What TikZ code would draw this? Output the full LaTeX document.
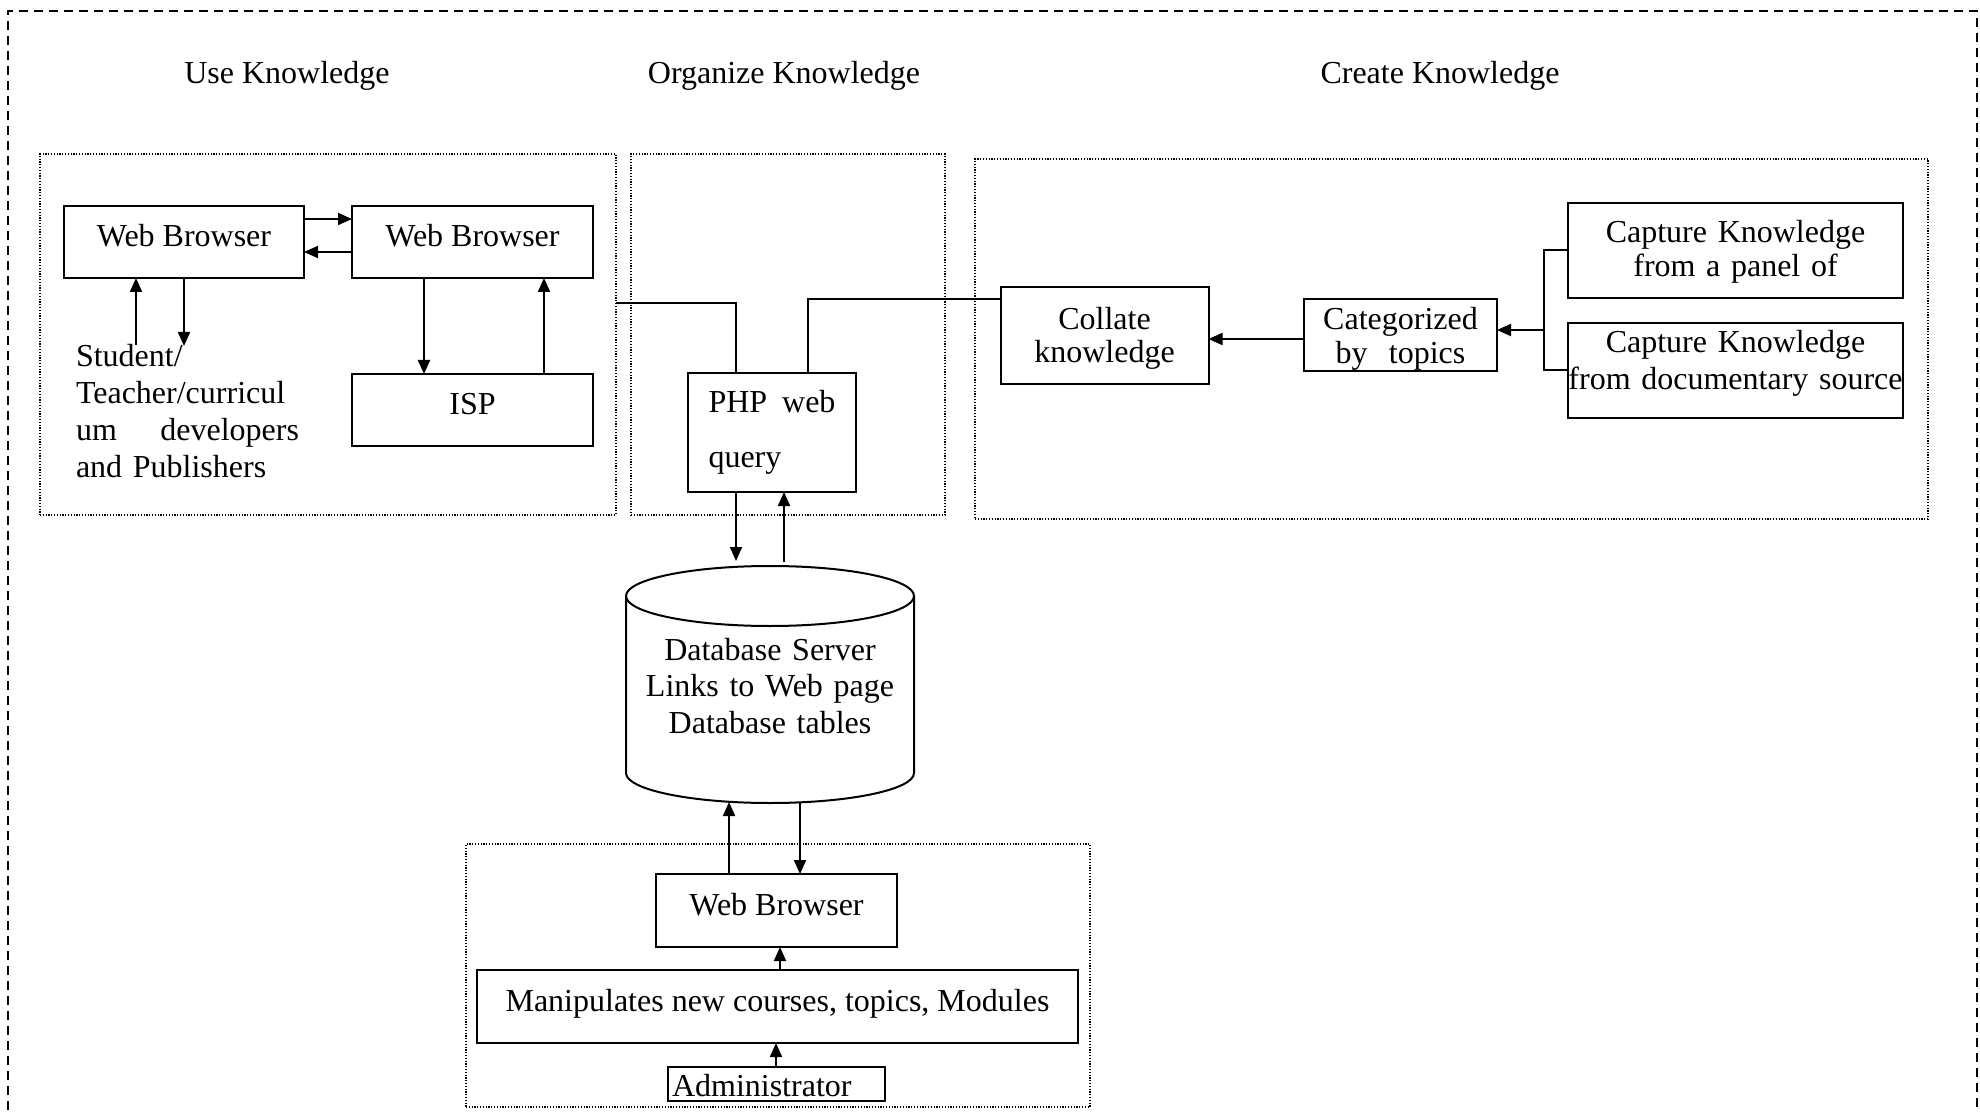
\documentclass[tikz,border=0pt]{standalone}
\usepackage{fontspec}
\setmainfont{Liberation Serif}
\usetikzlibrary{arrows.meta}
\tikzset{
  every node/.style={inner sep=0pt, outer sep=0pt},
  box/.style={draw, line width=1pt},
  zone/.style={draw, line width=0.6pt, dash pattern=on 0.6pt off 0.8pt},
  outer/.style={line width=1pt, dash pattern=on 4.5pt off 3pt},
  conn/.style={line width=1pt},
  arr/.style={line width=1pt, -{Triangle[length=7pt,width=6pt]}},
  oneline/.style={text height=12pt, text depth=7.5pt},
}
\begin{document}
\begin{tikzpicture}[x=0.5pt, y=-0.5pt, font=\fontsize{16pt}{17pt}\selectfont]
\useasboundingbox (0,0) rectangle (1980,1112);
\clip (0,0) rectangle (1980,1112);

% outer border, open at the bottom edge
\draw[outer] (8,1140) -- (8,11) -- (1977,11) -- (1977,1140);

% section titles
\node[anchor=base] (tuse) at (287,84) {Use Knowledge};
\node[anchor=base] (torg) at (784,84) {Organize Knowledge};
\node[anchor=base] (tcre) at (1440,84) {Create Knowledge};

% dotted zones
\node[zone, minimum width=288pt, minimum height=180.5pt] (usefr) at (328,334.5) {};
\node[zone, minimum width=157pt, minimum height=180.5pt] (orgfr) at (788,334.5) {};
\node[zone, minimum width=476.5pt, minimum height=180pt] (crefr) at (1451.5,339) {};
\node[zone, minimum width=312pt, minimum height=131.5pt] (admfr) at (778,975.5) {};

% use knowledge
\node[box, oneline, minimum width=120pt, minimum height=36pt] (wb1) at (184,242) {Web Browser};
\node[box, oneline, minimum width=120.5pt, minimum height=36pt] (wb2) at (472.5,242) {Web Browser};
\node[box, oneline, minimum width=120.5pt, minimum height=36pt] (isp) at (472.5,410) {ISP};
\node[anchor=base west, text width=111.5pt, align=left,
      font=\fontsize{16pt}{18.35pt}\selectfont] (users) at (76,367)
  {Student/\\Teacher/curricul\\\makebox[111.5pt][l]{um\hfill developers}\\and Publishers};
\coordinate (uup) at (136,345);
\coordinate (udown) at (184,346);

% organize knowledge
\node[box, minimum width=84pt, minimum height=59.5pt, text width=63.5pt, align=left,
      text height=10pt, text depth=29.5pt, font=\fontsize{16pt}{27.5pt}\selectfont]
  (php) at (772,432.5) {\makebox[63.5pt][l]{PHP\hfill web}\\query};

% create knowledge
\node[box, minimum width=104pt, minimum height=48.5pt, text width=100pt, align=center,
      text height=10pt, text depth=15.5pt, font=\fontsize{16pt}{16.5pt}\selectfont]
  (collate) at (1104.5,335.5) {Collate\\knowledge};
\node[box, minimum width=96.5pt, minimum height=36pt, text width=94pt, align=center,
      text height=10pt, text depth=15pt, font=\fontsize{16pt}{17pt}\selectfont]
  (cat) at (1400.5,335) {Categorized\\by~~topics};
\node[box, minimum width=167.5pt, minimum height=47.5pt, text width=165pt, align=center,
      text height=10pt, text depth=17.5pt, font=\fontsize{16pt}{17pt}\selectfont]
  (cap1) at (1735.5,250.5) {Capture Knowledge\\from a panel of};
\node[box, minimum width=167.5pt, minimum height=47.5pt, text width=166pt, align=center,
      text height=10pt, text depth=27.5pt, font=\fontsize{16pt}{18.5pt}\selectfont]
  (cap2) at (1735.5,370.5) {Capture Knowledge\\\makebox[160pt]{from documentary source}};
\coordinate (fork) at (1544,330);

% database server
\node[minimum width=144pt, minimum height=118.5pt, text width=140pt, align=center,
      text height=10pt, text depth=34.5pt, font=\fontsize{16pt}{18.25pt}\selectfont]
  (db) at (770,684.5) {Database Server\\Links to Web page\\Database tables};
\draw[conn] ([yshift=-15pt]db.north) ellipse [x radius=72pt, y radius=15pt];
\draw[conn] ([yshift=-15pt]db.north west) -- ([yshift=15pt]db.south west)
  arc[start angle=180, end angle=360, x radius=72pt, y radius=15pt]
  -- ([yshift=-15pt]db.north east);

% administration
\node[box, oneline, minimum width=120.5pt, minimum height=36.5pt] (wb3) at (776.5,910.5) {Web Browser};
\node[box, oneline, minimum width=300.5pt, minimum height=36.5pt] (manip) at (777.5,1006.5)
  {Manipulates new courses, topics, Modules};
\node[box, minimum width=108.5pt, minimum height=17pt, text width=104.5pt, align=left,
      text height=14pt, text depth=2pt] (admin) at (776.5,1084) {Administrator};

% connectors: use knowledge
\draw[arr] (wb1.east |- 0,219) -- (wb2.west |- 0,219);
\draw[arr] (wb2.west |- 0,252) -- (wb1.east |- 0,252);
\draw[arr] (uup) -- (uup |- wb1.south);
\draw[arr] (udown |- wb1.south) -- (udown);
\draw[arr] (wb2.south -| 424,0) -- (isp.north -| 424,0);
\draw[arr] (isp.north -| 544,0) -- (wb2.south -| 544,0);

% connectors: to and from the query
\draw[conn] (usefr.east |- 0,303) -| ([xshift=-18pt]php.north);
\draw[conn] ([xshift=18pt]php.north) |- (collate.west |- 0,299);
\draw[arr] ([xshift=-18pt]php.south) -- ([xshift=-17pt,yshift=2.5pt]db.north);
\draw[arr] ([xshift=7pt,yshift=2pt]db.north) -- ([xshift=6pt]php.south);

% connectors: create knowledge
\draw[arr] (cat.west |- 0,339) -- (collate.east |- 0,339);
\draw[conn] (cap1.west) -| (fork) |- (cap2.west);
\draw[arr] (fork) -- (cat.east |- fork);

% connectors: administration
\draw[arr] ([xshift=15pt]db.south) -- (wb3.north -| 800,0);
\draw[arr] (wb3.north -| 729,0) -- ([xshift=-20.5pt,yshift=0.5pt]db.south);
\draw[arr] (manip.north -| 780,0) -- (wb3.south -| 780,0);
\draw[arr] (admin.north -| 776,0) -- (manip.south -| 776,0);
\end{tikzpicture}
\end{document}
